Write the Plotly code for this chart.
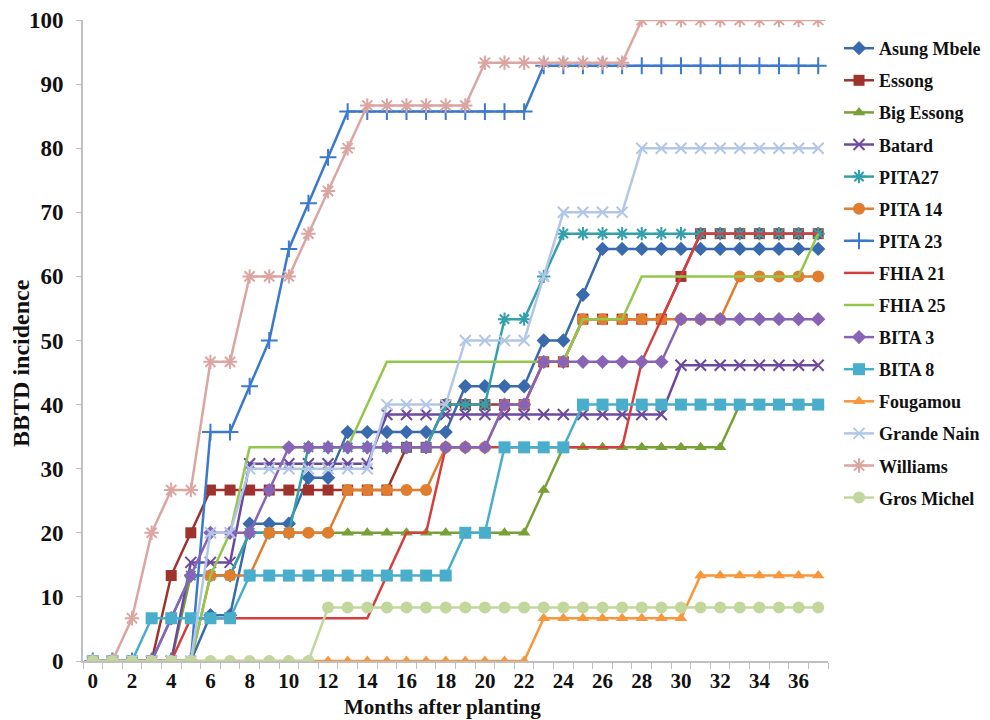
import plotly.graph_objects as go

months = list(range(38))
x_tick_labels = [str(m) for m in range(0, 37, 2)]
y_tick_values = list(range(0, 101, 10))

asung_mbele = [0]*6 + [7.14]*2 + [21.43]*3 + [28.57]*2 + [35.71]*6 + [42.86]*4 + [50]*2 + [57.14] + [64.29]*12
essong = [0]*4 + [13.33, 20] + [26.67]*10 + [33.33]*2 + [40]*5 + [46.67]*2 + [53.33]*5 + [60] + [66.67]*7
big_essong = [0]*5 + [13.33]*3 + [20]*15 + [26.67] + [33.33]*9 + [40]*5
batard = [0]*5 + [15.38]*3 + [30.77]*7 + [38.46]*15 + [46.15]*8
pita27 = [0]*4 + [6.67] + [13.33]*3 + [20]*3 + [33.33]*7 + [40]*3 + [53.33]*2 + [60] + [66.67]*14
pita14 = [0]*6 + [13.33]*3 + [20]*4 + [26.67]*5 + [33.33]*3 + [40]*2 + [46.67]*2 + [53.33]*8 + [60]*5
pita23 = [0]*6 + [35.71]*2 + [42.86, 50, 64.29, 71.43, 78.57] + [85.71]*10 + [92.86]*15
fhia21 = [0]*5 + [6.67]*10 + [13.33] + [20]*2 + [33.33]*10 + [46.67, 53.33, 60] + [66.67]*7
fhia25 = [0]*6 + [13.33, 20] + [33.33]*6 + [40] + [46.67]*10 + [53.33]*3 + [60]*9 + [66.67]
bita3 = [0]*4 + [6.67, 13.33] + [20]*3 + [26.67] + [33.33]*11 + [40]*2 + [46.67]*7 + [53.33]*8
bita8 = [0]*3 + [6.67]*5 + [13.33]*11 + [20]*2 + [33.33]*4 + [40]*13
fougamou = [0]*23 + [6.67]*8 + [13.33]*7
grande_nain = [0]*6 + [20]*2 + [30]*7 + [40]*4 + [50]*4 + [60] + [70]*4 + [80]*10
williams = [0]*2 + [6.67, 20, 26.67, 26.67, 46.67, 46.67, 60, 60, 60, 66.67, 73.33, 80] + [86.67]*6 + [93.33]*8 + [100]*10
gros_michel = [0]*12 + [8.33]*26

series = [
    ("Asung Mbele", asung_mbele, "#3A6AAE", "diamond", 11),
    ("Essong", essong, "#9E322C", "square", 11),
    ("Big Essong", big_essong, "#78A036", "triangle-up", 11),
    ("Batard", batard, "#6B4A9E", "x-thin-open", 11),
    ("PITA27", pita27, "#33A0AC", "asterisk-open", 11),
    ("PITA 14", pita14, "#E07D2E", "circle", 12),
    ("PITA 23", pita23, "#3A79CC", "cross-thin-open", 12),
    ("FHIA 21", fhia21, "#D33F3E", None, 0),
    ("FHIA 25", fhia25, "#93C74B", None, 0),
    ("BITA 3", bita3, "#8764B6", "diamond", 11),
    ("BITA 8", bita8, "#49AECB", "square", 12),
    ("Fougamou", fougamou, "#F7963A", "triangle-up", 11),
    ("Grande Nain", grande_nain, "#B3C6E7", "x-thin-open", 11),
    ("Williams", williams, "#DBA5A2", "asterisk-open", 12),
    ("Gros Michel", gros_michel, "#C3D69C", "circle", 12),
]

fig = go.Figure()
for i, (name, vals, color, sym, size) in enumerate(series):
    if sym is None:
        fig.add_trace(go.Scatter(
            x=months, y=vals, name=name, mode="lines", legendgroup=f"g{i}",
            line=dict(color=color, width=2.5)))
    else:
        fig.add_trace(go.Scatter(
            x=months, y=vals, name=name, mode="lines+markers", legendgroup=f"g{i}",
            line=dict(color=color, width=2.5),
            marker=dict(symbol=sym, size=size, color=color,
                        line=dict(color=color, width=2 if "open" in sym else 0))))

fig.update_layout(
    width=990, height=720,
    margin=dict(l=75, r=170, t=12, b=67, autoexpand=False),
    paper_bgcolor="white", plot_bgcolor="white",
    font=dict(family="Liberation Serif", color="#111111"),
    showlegend=True,
    legend=dict(
        x=1.0148, y=0.9844, xanchor="left", yanchor="top",
        font=dict(family="Liberation Serif", size=18, color="#111111", weight="bold"),
        tracegroupgap=5.7, bgcolor="rgba(0,0,0,0)", itemwidth=30,
    ),
    xaxis=dict(
        range=[-0.5, 37.5], tickmode="array", tickvals=list(range(0, 37, 2)),
        ticktext=x_tick_labels, ticks="", showgrid=False, zeroline=False,
        showline=True, linecolor="#BFBFBF", linewidth=2,
        tickfont=dict(family="Liberation Serif", size=21, color="#111111", weight="bold"),
        minor=dict(ticks="outside", tickmode="linear", tick0=0.5, dtick=1,
                   ticklen=6, tickcolor="#BFBFBF", tickwidth=1, showgrid=False),
        automargin=False,
    ),
    yaxis=dict(
        range=[0, 100], tickmode="array", tickvals=y_tick_values,
        ticks="outside", ticklen=5, tickcolor="#BFBFBF", tickwidth=1,
        ticklabelstandoff=8,
        showgrid=False, zeroline=False, showline=True, linecolor="#BFBFBF", linewidth=2,
        tickfont=dict(family="Liberation Serif", size=23, color="#111111", weight="bold"),
        automargin=False,
    ),
    annotations=[
        dict(text="<b>BBTD incidence</b>", xref="paper", yref="paper",
             x=-0.0832, y=0.465, xanchor="center", yanchor="middle", textangle=-90,
             showarrow=False,
             font=dict(family="Liberation Serif", size=24, color="#111111")),
        dict(text="<b>Months after planting</b>", xref="paper", yref="paper",
             x=0.482, y=-0.0718, xanchor="center", yanchor="middle",
             showarrow=False,
             font=dict(family="Liberation Serif", size=21, color="#111111")),
    ],
)

fig.write_html("out.html")
